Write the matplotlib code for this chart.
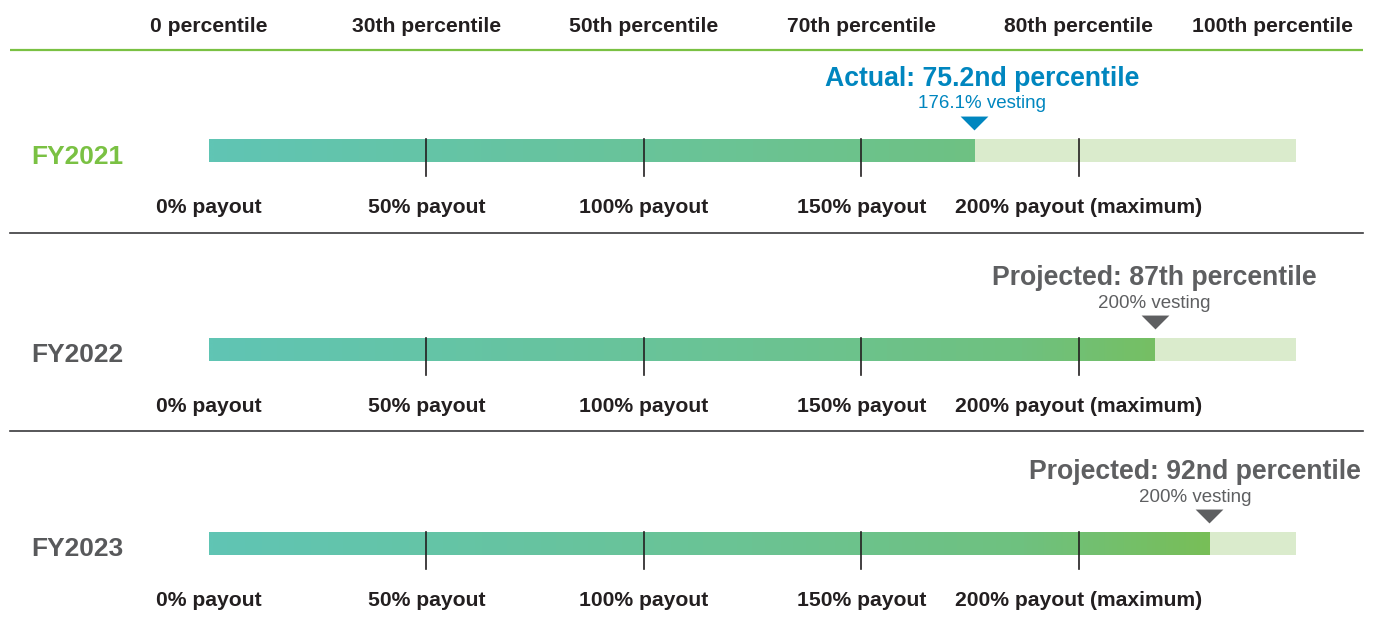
import numpy as np
import matplotlib.pyplot as plt
from matplotlib.colors import LinearSegmentedColormap

plt.rcParams['font.family'] = ['Liberation Sans', 'DejaVu Sans']

# percentile scale (non-linear) and matching payout ticks
pct_ticks = [0, 30, 50, 70, 80, 100]
pct_labels = ['0 percentile', '30th percentile', '50th percentile',
              '70th percentile', '80th percentile', '100th percentile']
payout_labels = ['0% payout', '50% payout', '100% payout', '150% payout',
                 '200% payout (maximum)']
payout_pct = [0, 30, 50, 70, 80]

years = ['FY2021', 'FY2022', 'FY2023']
results = [75.2, 87, 92]
vesting = [176.1, 200, 200]
headlines = ['Actual: 75.2nd percentile', 'Projected: 87th percentile',
             'Projected: 92nd percentile']

year_colors = ['#7AC143', '#58595B', '#58595B']
note_colors = ['#0086BF', '#5E5F61', '#5E5F61']

DARK = '#231F20'
TRACK = '#DAEBCC'
grad = LinearSegmentedColormap.from_list(
    'bar', [(0, '#60C5B4'), (0.5, '#6BC393'), (0.75, '#6FC17F'),
            (0.92, '#78BE58'), (1, '#7BBE52')])
tri = [(-1, 0.5), (1, 0.5), (0, -0.5), (-1, 0.5)]


def pos(p):
    return np.interp(p, pct_ticks, np.arange(len(pct_ticks)))


W, H = 1373, 618
fig = plt.figure(figsize=(W / 100, H / 100), dpi=100)
ax = fig.add_axes([0, 0, 1, 1])
x0px, x1px = 209, 1296
upp = 5 / (x1px - x0px)
ax.set_xlim(-x0px * upp, (W - x0px) * upp)
ax.set_ylim(H, 0)
ax.axis('off')


def px(x):
    return (x - x0px) * upp


# header
for i, (p, lab) in enumerate(zip(pct_ticks, pct_labels)):
    if i == len(pct_ticks) - 1:
        ax.text(px(1353), 26, lab, ha='right', va='center', fontsize=15.2,
                fontweight='bold', color=DARK)
    else:
        ax.text(pos(p), 26, lab, ha='center', va='center', fontsize=15.2,
                fontweight='bold', color=DARK)
ax.plot([px(10), px(1363)], [50, 50], color='#7AC143', lw=1.6,
        solid_capstyle='butt')

bar_centers = [150.5, 349.5, 543.5]
bar_h = 23
callouts = []
for k, (yr, res, ves, head) in enumerate(zip(years, results, vesting, headlines)):
    yc = bar_centers[k]
    top, bot = yc - bar_h / 2, yc + bar_h / 2
    end = pos(res)
    # light track, then gradient fill up to the result
    ax.fill_between([0, 5], top, bot, color=TRACK, lw=0)
    g = np.linspace(0, end / 5, 400)[None, :]
    ax.imshow(g, cmap=grad, vmin=0, vmax=1, aspect='auto',
              extent=[0, end, bot, top], interpolation='bilinear', zorder=2)
    # tick marks at the payout points
    for p in payout_pct[1:]:
        ax.plot([pos(p)] * 2, [top, bot + 14], color=DARK, lw=1.2, zorder=3)
    for p, lab in zip(payout_pct, payout_labels):
        ax.text(pos(p), yc + 57, lab, ha='center', va='center', fontsize=15.2,
                fontweight='bold', color=DARK)
    ax.text(px(31), yc + 6, yr, ha='left', va='center', fontsize=19,
            fontweight='bold', color=year_colors[k])
    # marker and callout
    c = note_colors[k]
    ax.plot(end, top - 16, marker=tri, ms=20, color=c, mec='none', zorder=4)
    t1 = ax.text(end + 8 * upp * (k == 0), top - 60, head, ha='center',
                 va='center', fontsize=19.2, fontweight='bold', color=c)
    t2 = ax.text(end + 8 * upp * (k == 0), top - 35, f'{ves:g}% vesting',
                 ha='center', va='center', fontsize=13.5, color=c)
    callouts.append((t1, t2))

for y in [233, 431]:
    ax.plot([px(10), px(1363)], [y, y], color='#3A3A3C', lw=1.2)

# keep callouts inside the right margin
fig.canvas.draw()
r = fig.canvas.get_renderer()
for t1, t2 in callouts:
    over = t1.get_window_extent(r).x1 - 1361
    if over > 0:
        for t in (t1, t2):
            x, y = t.get_position()
            t.set_position((x - over * upp, y))

fig.savefig('out.png', dpi=100, facecolor='white')
